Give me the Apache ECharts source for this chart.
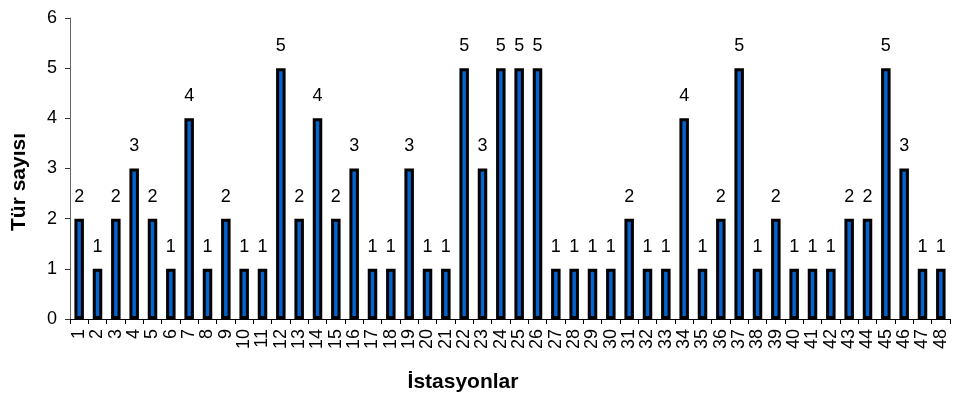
<!DOCTYPE html>
<html>
<head>
<meta charset="utf-8">
<script src="https://cdn.jsdelivr.net/npm/echarts@6/dist/echarts.min.js"></script>
<style>
  html, body { margin: 0; padding: 0; background: #fff; }
  #chart { width: 957px; height: 399px; }
</style>
</head>
<body>
<div id="chart"></div>
<script>
// Station numbers along the x axis
const stations = Array.from({ length: 48 }, (_, i) => String(i + 1));
// Species count per station
const speciesCount = [
  2, 1, 2, 3, 2, 1, 4, 1, 2, 1, 1, 5,
  2, 4, 2, 3, 1, 1, 3, 1, 1, 5, 3, 5,
  5, 5, 1, 1, 1, 1, 2, 1, 1, 4, 1, 2,
  5, 1, 2, 1, 1, 1, 2, 2, 5, 3, 1, 1
];
// Y axis ticks
const yTicks = [0, 1, 2, 3, 4, 5, 6];
// Axis titles
const xTitle = 'İstasyonlar';
const yTitle = 'Tür sayısı';

const font = '"Liberation Sans", Arial, sans-serif';
const chart = echarts.init(document.getElementById('chart'));
chart.setOption({
  animation: false,
  grid: { left: 70, right: 7, top: 18, bottom: 80 },
  graphic: [
    {
      type: 'text',
      x: 463, y: 382,
      style: {
        text: xTitle,
        font: 'bold 21px ' + font,
        fill: '#000',
        align: 'center',
        verticalAlign: 'middle'
      }
    },
    {
      type: 'text',
      x: 19, y: 182,
      rotation: Math.PI / 2,
      style: {
        text: yTitle,
        font: 'bold 21px ' + font,
        fill: '#000',
        align: 'center',
        verticalAlign: 'middle'
      }
    }
  ],
  xAxis: {
    type: 'category',
    data: stations,
    axisLine: { lineStyle: { color: '#000', width: 1 } },
    axisTick: { show: true, alignWithLabel: false, length: 5, lineStyle: { color: '#000' } },
    axisLabel: { rotate: 90, fontFamily: font, fontSize: 18, color: '#000', margin: 10, interval: 0 }
  },
  yAxis: {
    type: 'value',
    min: yTicks[0],
    max: yTicks[yTicks.length - 1],
    interval: 1,
    splitLine: { show: false },
    axisLine: { show: true, lineStyle: { color: '#666', width: 1 } },
    axisTick: { show: true, length: 5, lineStyle: { color: '#333' } },
    axisLabel: { fontFamily: font, fontSize: 18, color: '#000', margin: 13 }
  },
  series: [{
    type: 'bar',
    data: speciesCount,
    barWidth: 9.5,
    itemStyle: { color: '#0563CC', borderColor: '#000', borderWidth: 3 },
    label: {
      show: true,
      position: 'top',
      distance: 13,
      fontFamily: font,
      fontSize: 18,
      color: '#000'
    }
  }]
});
</script>
</body>
</html>
